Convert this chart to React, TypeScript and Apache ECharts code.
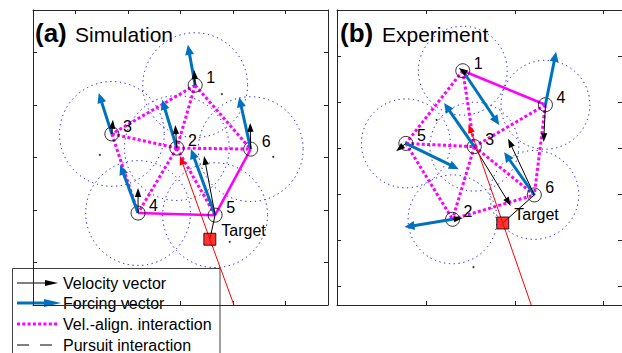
import React, { useEffect, useRef } from 'react';
import * as echarts from 'echarts';

const FONT = '"Liberation Sans", Arial, Helvetica, sans-serif';
const BLUE = '#0072BD';
const MAGENTA = '#FF00FF';
const AXIS = '#262626';

// ---------- Panel (a) Simulation (units: interaction radius = 1) ----------
const agentIds = ['1', '2', '3', '4', '5', '6'];
const simAgents: number[][] = [
  [0.28, 1.38], [-0.07, 0.18], [-1.31, 0.45], [-0.81, -1.06], [0.66, -1.10], [1.34, 0.16],
];
const simForceTips: number[][] = [
  [0.14, 2.15], [-0.35, 1.10], [-1.56, 1.23], [-1.15, -0.14], [0.20, 0.16], [1.12, 1.15],
];
const simVelTips: number[][] = [
  [0.26, 1.67], [-0.10, 0.62], [-1.29, 0.72], [-0.81, -0.58], [0.45, 0.03], [1.33, 0.66],
];
const simTarget: number[] = [0.56, -1.56];
const simTargetArrowTip: number[] = [-0.01, 0.03];
const simTargetTrailEnd: number[] = [1.02, -2.815];
const simPursuer = 5;
const simAlignDotted: number[][] = [[1, 3], [1, 2], [1, 6], [3, 2], [2, 6], [3, 4], [2, 4], [2, 5]];
const simAlignSolid: number[][] = [[4, 5], [5, 6]];
const simDots: number[][] = [[0.79, 1.21], [-1.54, 0.05], [1.77, 0.01], [0.94, -1.61]];
const simRange = [-2.815, 2.815];
const simTicks = [-2, -1, 0, 1, 2];

// ---------- Panel (b) Experiment ----------
const expAgents: number[][] = [
  [2.83, 4.68], [2.60, 1.45], [3.09, 3.03], [4.69, 3.94], [1.55, 3.10], [4.44, 1.98],
];
const expForceTips: number[][] = [
  [3.65, 3.50], [1.52, 1.28], [2.41, 3.98], [4.93, 5.09], [2.74, 2.54], [3.76, 2.91],
];
const expVelTips: number[][] = [
  [2.74, 4.74], [2.83, 1.48], [3.91, 1.74], [4.65, 3.13], [1.33, 2.93], [3.85, 3.20],
];
const expTarget: number[] = [3.73, 1.37];
const expTargetArrowTip: number[] = [2.96, 3.52];
const expTargetTrailEnd: number[] = [4.37, -0.413];
const expPursuer = 6;
const expAlignDotted: number[][] = [[1, 5], [1, 3], [5, 3], [5, 2], [3, 2], [3, 4], [4, 6], [3, 6], [2, 6]];
const expAlignSolid: number[][] = [[1, 4]];
const expDots: number[][] = [[2.24, 3.61], [3.07, 0.41]];
const expXRange = [0, 6.413];
const expYRange = [-0.413, 6.0];
const expXTicks = [2, 4, 6];
const expYTicks = [0, 1, 2, 3, 4, 5];

const legendLabels = ['Velocity vector', 'Forcing vector', 'Vel.-align. interaction', 'Pursuit interaction'];

function segs(from: number[][], to: number[][]) {
  return from.map((p, i) => [p[0], p[1], to[i][0], to[i][1]]);
}
function edgeSegs(agents: number[][], pairs: number[][]) {
  return pairs.map(([a, b]) => [agents[a - 1][0], agents[a - 1][1], agents[b - 1][0], agents[b - 1][1]]);
}

function lineSeries(g: number, data: number[][], style: any, z: number, clip = false) {
  return {
    type: 'custom', xAxisIndex: g * 2, yAxisIndex: g * 2, z, clip,
    encode: { x: [0, 2], y: [1, 3] },
    data,
    renderItem: (params: any, api: any) => {
      const p1 = api.coord([api.value(0), api.value(1)]);
      const p2 = api.coord([api.value(2), api.value(3)]);
      return { type: 'line', shape: { x1: p1[0], y1: p1[1], x2: p2[0], y2: p2[1] }, style: { fill: null, ...style } };
    },
  };
}

function arrowSeries(g: number, data: number[][], color: string, lw: number, hl: number, hw: number, z: number) {
  return {
    type: 'custom', xAxisIndex: g * 2, yAxisIndex: g * 2, z,
    encode: { x: [0, 2], y: [1, 3] },
    data,
    renderItem: (params: any, api: any) => {
      const p1 = api.coord([api.value(0), api.value(1)]);
      const p2 = api.coord([api.value(2), api.value(3)]);
      const dx = p2[0] - p1[0];
      const dy = p2[1] - p1[1];
      const len = Math.hypot(dx, dy) || 1;
      const ux = dx / len, uy = dy / len;
      const bx = p2[0] - ux * hl, by = p2[1] - uy * hl;
      const children: any[] = [];
      if (len > hl) {
        children.push({ type: 'line', shape: { x1: p1[0], y1: p1[1], x2: bx + ux * 1, y2: by + uy * 1 }, style: { stroke: color, lineWidth: lw, fill: null } });
      }
      children.push({
        type: 'polygon',
        shape: { points: [[p2[0], p2[1]], [bx - uy * hw, by + ux * hw], [bx + uy * hw, by - ux * hw]] },
        style: { fill: color, stroke: null },
      });
      return { type: 'group', children };
    },
  };
}

function circleSeries(g: number, centers: number[][], z: number) {
  return {
    type: 'custom', xAxisIndex: g * 2, yAxisIndex: g * 2, z,
    data: centers,
    renderItem: (params: any, api: any) => {
      const c = api.coord([api.value(0), api.value(1)]);
      const r = api.size([1, 1])[0];
      return { type: 'circle', shape: { cx: c[0], cy: c[1], r }, style: { fill: null, stroke: '#0000FF', lineWidth: 1, lineDash: [1.2, 3.6] } };
    },
  };
}

function labelSeries(g: number, pts: number[][], texts: string[], dx: number, dy: number, align: string, z: number) {
  return {
    type: 'custom', xAxisIndex: g * 2, yAxisIndex: g * 2, z,
    data: pts,
    renderItem: (params: any, api: any) => {
      const c = api.coord([api.value(0), api.value(1)]);
      return {
        type: 'text', x: c[0] + dx, y: c[1] + dy,
        style: { text: texts[params.dataIndex], fill: '#000', fontSize: 16, fontFamily: FONT, align, verticalAlign: 'middle' },
      };
    },
  };
}

function panelSeries(g: number, agents: number[][], force: number[][], vel: number[][], target: number[],
  arrowTip: number[], trailEnd: number[], pursuer: number, dotted: number[][], solid: number[][], dots: number[][]) {
  return [
    circleSeries(g, agents, 1),
    lineSeries(g, edgeSegs(agents, dotted), { stroke: MAGENTA, lineWidth: 3, lineDash: [3, 2.3] }, 2),
    lineSeries(g, edgeSegs(agents, solid), { stroke: MAGENTA, lineWidth: 2.5 }, 2),
    {
      type: 'scatter', xAxisIndex: g * 2, yAxisIndex: g * 2, z: 3, data: dots, symbolSize: 2,
      itemStyle: { color: '#000' }, silent: true,
    },
    {
      type: 'scatter', xAxisIndex: g * 2, yAxisIndex: g * 2, z: 3, data: agents, symbol: 'circle', symbolSize: 14,
      itemStyle: { color: 'rgba(0,0,0,0)', borderColor: '#000', borderWidth: 1 }, silent: true,
    },
    arrowSeries(g, segs(agents, force), BLUE, 3, 10, 4.5, 4),
    lineSeries(g, [[agents[pursuer - 1][0], agents[pursuer - 1][1], target[0], target[1]]], { stroke: '#000', lineWidth: 1 }, 5),
    arrowSeries(g, segs(agents, vel), '#000', 1, 9, 3.2, 5),
    lineSeries(g, [[target[0], target[1], trailEnd[0], trailEnd[1]]], { stroke: '#FF0000', lineWidth: 1 }, 6, true),
    arrowSeries(g, [[target[0], target[1], arrowTip[0], arrowTip[1]]], '#FF0000', 1, 9, 3.5, 6),
    {
      type: 'scatter', xAxisIndex: g * 2, yAxisIndex: g * 2, z: 7, data: [target], symbol: 'rect', symbolSize: 12,
      itemStyle: { color: '#FF0000', borderColor: '#000', borderWidth: 1 }, silent: true,
    },
    labelSeries(g, agents, agentIds, 15.5, -7.5, 'center', 8),
    labelSeries(g, [target], ['Target'], 11.5, -8.5, 'left', 8),
  ];
}

function axes(kind: 'x' | 'y', gridIndex: number, range: number[], ticks: number[]) {
  const positions = kind === 'x' ? ['bottom', 'top'] : ['left', 'right'];
  return positions.map((position) => ({
    type: 'value', gridIndex, position, min: range[0], max: range[1],
    axisLine: { show: true, onZero: false, lineStyle: { color: AXIS, width: 1 } },
    axisTick: { show: true, inside: true, length: 4, customValues: ticks, lineStyle: { color: AXIS, width: 1 } },
    axisLabel: { show: false },
    splitLine: { show: false },
  }));
}

function buildOption(): any {
  const rowY = [283, 303, 324, 345];
  const legend: any[] = [
    { type: 'rect', shape: { x: 12.5, y: 268.5, width: 207.5, height: 100 }, style: { fill: '#fff', stroke: '#404040', lineWidth: 1 } },
    { type: 'line', shape: { x1: 17, y1: rowY[0], x2: 47, y2: rowY[0] }, style: { stroke: '#000', lineWidth: 1 } },
    { type: 'polygon', shape: { points: [[58, rowY[0]], [45, rowY[0] - 3], [45, rowY[0] + 3]] }, style: { fill: '#000' } },
    { type: 'line', shape: { x1: 17, y1: rowY[1], x2: 46, y2: rowY[1] }, style: { stroke: BLUE, lineWidth: 3 } },
    { type: 'polygon', shape: { points: [[61, rowY[1]], [44, rowY[1] - 4], [44, rowY[1] + 4]] }, style: { fill: BLUE } },
    { type: 'line', shape: { x1: 17, y1: rowY[2], x2: 58, y2: rowY[2] }, style: { stroke: MAGENTA, lineWidth: 3, lineDash: [3, 2.3] } },
    { type: 'line', shape: { x1: 17, y1: rowY[3], x2: 53, y2: rowY[3] }, style: { stroke: '#000', lineWidth: 1, lineDash: [12, 11] } },
    ...legendLabels.map((t, i) => ({
      type: 'text', x: 63, y: rowY[i],
      style: { text: t, fill: '#000', fontSize: 16, fontFamily: FONT, align: 'left', verticalAlign: 'middle' },
    })),
  ];
  const titles: any[] = [
    { type: 'text', x: 35, y: 33, style: { text: '(a)', fill: '#000', fontSize: 26, fontWeight: 'bold', fontFamily: FONT, verticalAlign: 'middle' } },
    { type: 'text', x: 75, y: 34.5, style: { text: 'Simulation', fill: '#000', fontSize: 21, fontFamily: FONT, verticalAlign: 'middle' } },
    { type: 'text', x: 340, y: 33, style: { text: '(b)', fill: '#000', fontSize: 26, fontWeight: 'bold', fontFamily: FONT, verticalAlign: 'middle' } },
    { type: 'text', x: 382, y: 34.5, style: { text: 'Experiment', fill: '#000', fontSize: 21, fontFamily: FONT, verticalAlign: 'middle' } },
  ];
  return {
    animation: false,
    backgroundColor: '#fff',
    grid: [
      { left: 33, top: 10, width: 295, height: 295, containLabel: false },
      { left: 337, top: 10, width: 295, height: 295, containLabel: false },
    ],
    xAxis: [...axes('x', 0, simRange, simTicks), ...axes('x', 1, expXRange, expXTicks)],
    yAxis: [...axes('y', 0, simRange, simTicks), ...axes('y', 1, expYRange, expYTicks)],
    series: [
      ...panelSeries(0, simAgents, simForceTips, simVelTips, simTarget, simTargetArrowTip, simTargetTrailEnd,
        simPursuer, simAlignDotted, simAlignSolid, simDots),
      ...panelSeries(1, expAgents, expForceTips, expVelTips, expTarget, expTargetArrowTip, expTargetTrailEnd,
        expPursuer, expAlignDotted, expAlignSolid, expDots),
    ],
    graphic: [
      { type: 'group', z: 100, children: titles },
      { type: 'group', z: 100, children: legend },
    ],
  };
}

export default function App() {
  const ref = useRef<HTMLDivElement>(null);
  useEffect(() => {
    const chart = echarts.init(ref.current!, null, { renderer: 'svg' });
    chart.setOption(buildOption());
    return () => chart.dispose();
  }, []);
  return (
    <div
      ref={ref}
      style={{ position: 'fixed', left: 0, top: 0, width: 622, height: 353, background: '#fff' }}
    />
  );
}
